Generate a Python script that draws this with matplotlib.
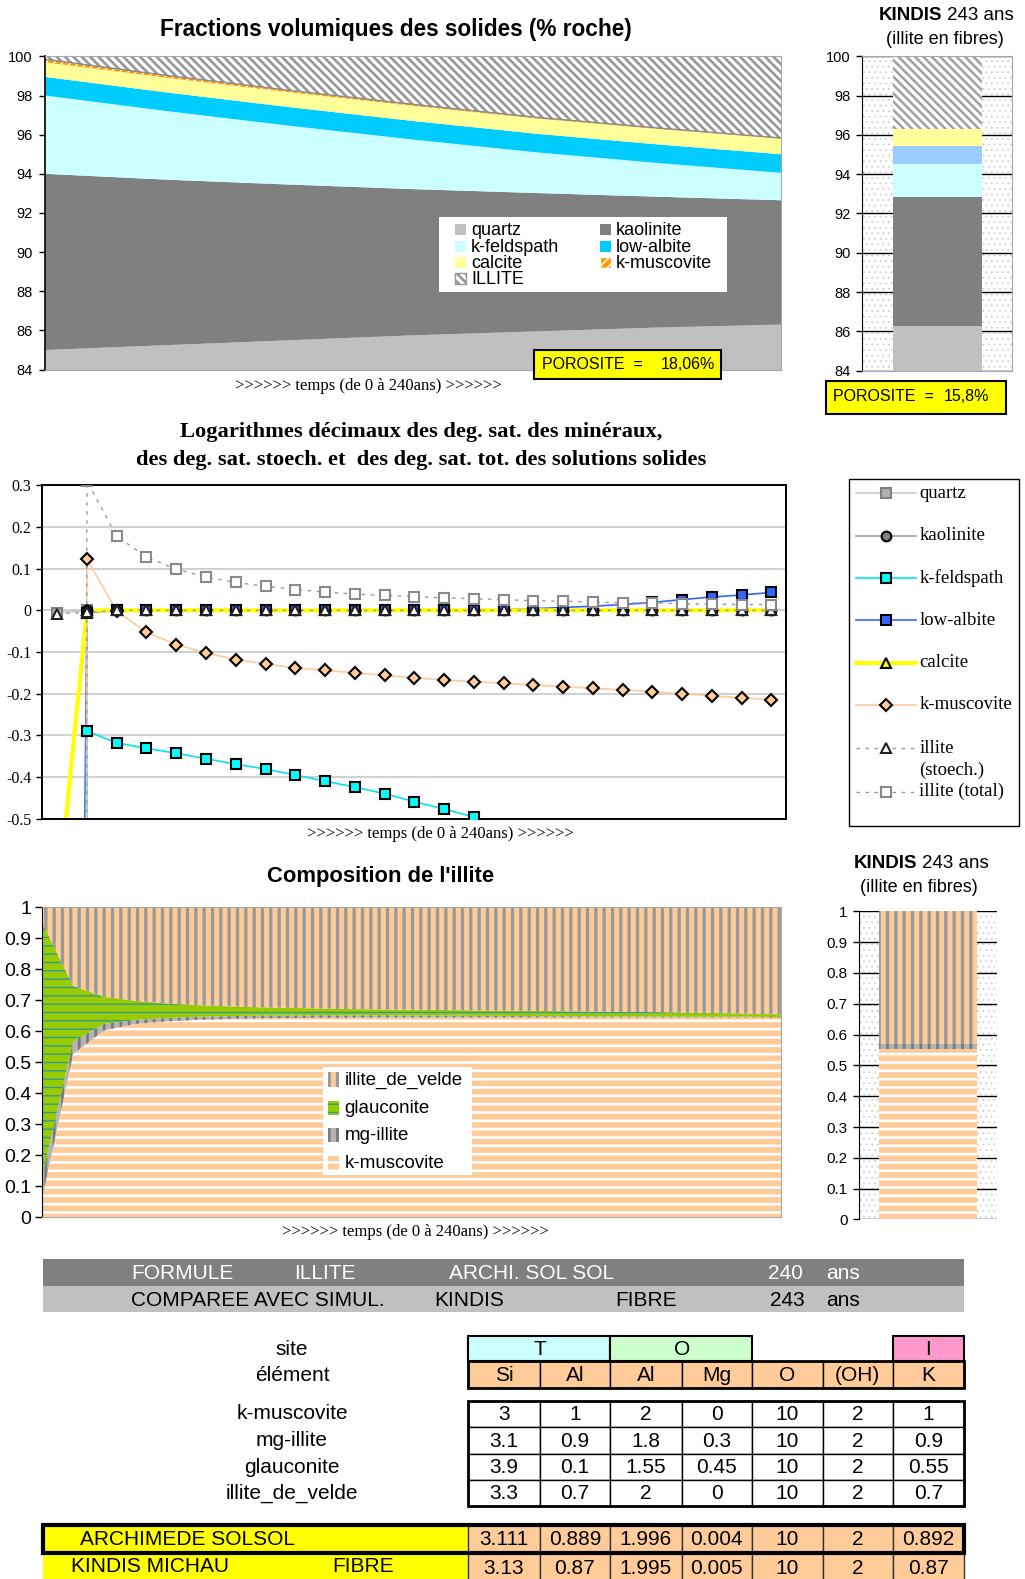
import numpy as np
import matplotlib
matplotlib.use("Agg")
import matplotlib.pyplot as plt
from matplotlib.patches import Rectangle

SANS = "Liberation Sans"
SERIF = "Liberation Serif"
plt.rcParams["font.family"] = SANS

# ---------------- data : volume fractions of the solids (% roche)
years = [0, 40, 80, 120, 160, 200, 240]
vol_quartz = [85.0, 85.25, 85.5, 85.75, 85.95, 86.15, 86.3]
vol_kaolinite = [9.0, 8.45, 7.95, 7.47, 7.07, 6.68, 6.35]
vol_kfeldspath = [4.0, 3.5, 3.0, 2.53, 2.08, 1.72, 1.4]
vol_lowalbite = [0.95, 0.95, 0.95, 0.95, 0.95, 0.95, 0.95]
vol_calcite = [0.75, 0.75, 0.76, 0.77, 0.78, 0.79, 0.80]
vol_kmuscovite = [0.15, 0.12, 0.10, 0.08, 0.06, 0.05, 0.03]
vol_illite = [0.15, 0.98, 1.74, 2.45, 3.11, 3.66, 4.17]
porosite_archi = "18,06%"

# KINDIS 243 ans (quartz, kaolinite, k-feldspath, low-albite, calcite, illite)
kindis_vol = [86.25, 6.6, 1.65, 0.95, 0.85, 3.7]
porosite_kindis = "15,8%"

# ---------------- data : log10 of saturation degrees (25 time steps)
steps = list(range(25))
nan = np.nan
ls_quartz = [-0.006, 0, 0, 0, 0, 0, 0, 0, 0, 0, 0, 0, 0, 0, 0, 0, 0, 0, 0, 0, 0, 0, 0, 0, 0]
ls_kaolinite = [-40, 0, 0, 0, 0, 0, 0, 0, 0, 0, 0, 0, 0, 0, 0, 0, 0, 0, 0, 0, 0, 0, 0, 0, 0]
ls_kfeldspath = [-40, -0.290, -0.318, -0.331, -0.343, -0.356, -0.369, -0.381, -0.395, -0.410,
                 -0.424, -0.440, -0.459, -0.477, -0.496, -0.52, nan, nan, nan, nan, nan, nan,
                 nan, nan, nan]
ls_lowalbite = [-7, -0.006, 0, 0, 0, 0, 0, 0, 0, 0, 0, 0, 0, 0, 0, 0.002, 0.004, 0.007, 0.010,
                0.014, 0.019, 0.026, 0.032, 0.037, 0.043]
ls_calcite = [-0.71, 0, 0, 0, 0, 0, 0, 0, 0, 0, 0, 0, 0, 0, 0, 0, 0, 0, 0, 0, 0, 0, 0, 0, 0]
ls_kmuscovite = [-40, 0.123, -0.001, -0.053, -0.082, -0.102, -0.118, -0.128, -0.138, -0.144,
                 -0.150, -0.156, -0.162, -0.167, -0.171, -0.175, -0.179, -0.183, -0.187, -0.191,
                 -0.195, -0.200, -0.205, -0.210, -0.214]
ls_illite_stoech = [-0.008, -0.005, 0, 0, 0, 0, 0, 0, 0, 0, 0, 0, 0, 0, 0, 0, 0, 0, 0, 0, 0, 0,
                    0, 0, 0]
ls_illite_total = [-40, 0.31, 0.178, 0.128, 0.099, 0.080, 0.067, 0.058, 0.050, 0.044, 0.039,
                   0.036, 0.033, 0.030, 0.028, 0.026, 0.023, 0.022, 0.020, 0.018, 0.018, 0.016,
                   0.015, 0.014, 0.014]

# ---------------- data : illite composition (25 time steps)
comp_kmuscovite = [0.065, 0.527, 0.603, 0.624, 0.632, 0.637, 0.640, 0.642, 0.643, 0.644, 0.644,
                   0.645, 0.645, 0.645, 0.645, 0.645, 0.645, 0.645, 0.645, 0.645, 0.645, 0.645,
                   0.645, 0.645, 0.644]
comp_mgillite = [0.07, 0.04, 0.021, 0.013, 0.011, 0.010, 0.009, 0.009, 0.008, 0.008, 0.007,
                 0.007, 0.006, 0.006, 0.005, 0.005, 0.004, 0.004, 0.003, 0.003, 0.003, 0.002,
                 0.002, 0.002, 0.002]
comp_glauconite = [0.815, 0.18, 0.088, 0.062, 0.047, 0.038, 0.032, 0.027, 0.025, 0.022, 0.021,
                   0.019, 0.019, 0.018, 0.018, 0.017, 0.017, 0.016, 0.016, 0.015, 0.014, 0.013,
                   0.012, 0.010, 0.009]
comp_velde = [0.05, 0.253, 0.288, 0.301, 0.31, 0.315, 0.319, 0.322, 0.324, 0.326, 0.328, 0.329,
              0.330, 0.331, 0.332, 0.333, 0.334, 0.335, 0.336, 0.337, 0.338, 0.340, 0.341, 0.343,
              0.345]
# KINDIS fibre: k-muscovite, mg-illite, glauconite, illite_de_velde
kindis_comp = [0.553, 0.016, 0.0, 0.431]

# ---------------- data : formula table
elements = ["Si", "Al", "Al", "Mg", "O", "(OH)", "K"]
end_members = ["k-muscovite", "mg-illite", "glauconite", "illite_de_velde"]
formula_kmuscovite = [3, 1, 2, 0, 10, 2, 1]
formula_mgillite = [3.1, 0.9, 1.8, 0.3, 10, 2, 0.9]
formula_glauconite = [3.9, 0.1, 1.55, 0.45, 10, 2, 0.55]
formula_velde = [3.3, 0.7, 2, 0, 10, 2, 0.7]
formula_archimede = [3.111, 0.889, 1.996, 0.004, 10, 2, 0.892]
formula_kindis = [3.13, 0.87, 1.995, 0.005, 10, 2, 0.87]

# ---------------- figure scaffolding (layout in reference pixels)
W, H = 1018.0, 1568.0
fig = plt.figure(figsize=(10.25, 15.79), dpi=100)


def add_box(x0, y0, x1, y1):
    return fig.add_axes([x0 / W, 1 - y1 / H, (x1 - x0) / W, (y1 - y0) / H])


ov = fig.add_axes([0, 0, 1, 1], zorder=10)
ov.set_xlim(0, W)
ov.set_ylim(H, 0)
ov.axis("off")


def rect(x0, y0, x1, y1, fc, ec="black", lw=1.0, hatch=None, hlw=1.0, z=1):
    with plt.rc_context({"hatch.linewidth": hlw}):
        p = Rectangle((x0, y0), x1 - x0, y1 - y0, facecolor=fc, edgecolor=ec,
                      linewidth=lw, hatch=hatch, zorder=z)
    if hatch and hasattr(p, "set_hatch_linewidth"):
        p.set_hatch_linewidth(hlw)
    ov.add_patch(p)
    return p


def txt(x, y, s, size=15, ha="left", family=SANS, **kw):
    ov.text(x, y, s, ha=ha, va="center", fontsize=size, family=family, **kw)


def layer(ax, x, lo, hi, fc, ec="none", hatch=None, hlw=1.0, lw=0):
    with plt.rc_context({"hatch.linewidth": hlw}):
        c = ax.fill_between(x, lo, hi, facecolor=fc, edgecolor=ec, hatch=hatch, linewidth=lw)
    if hatch and hasattr(c, "set_hatch_linewidth"):
        c.set_hatch_linewidth(hlw)
    return c


def bar(ax, x, h, b, width, fc, ec="none", hatch=None, hlw=1.0):
    with plt.rc_context({"hatch.linewidth": hlw}):
        bars = ax.bar(x, h, width=width, bottom=b, facecolor=fc, edgecolor=ec, hatch=hatch,
                      linewidth=0, zorder=2)
    for p in bars:
        if hatch and hasattr(p, "set_hatch_linewidth"):
            p.set_hatch_linewidth(hlw)


def dotted_bg(ax):
    with plt.rc_context({"hatch.linewidth": 0.6}):
        r = Rectangle((0, 0), 1, 1, transform=ax.transAxes, facecolor="white",
                      edgecolor="#CFCFCF", hatch="...", linewidth=0, zorder=0)
    if hasattr(r, "set_hatch_linewidth"):
        r.set_hatch_linewidth(0.6)
    ax.add_patch(r)


# styles for the solid phases (top charts)
st_quartz = dict(fc="#C0C0C0")
st_kaolinite = dict(fc="#808080")
st_kfeld = dict(fc="#CCFFFF")
st_albite = dict(fc="#00CCFF")
st_calcite = dict(fc="#FFFF99")
st_kmusc = dict(fc="#FF9900", ec="white", hatch="////", hlw=1.0)
st_illite = dict(fc="white", ec="#969696", hatch="\\\\\\\\", hlw=1.9)

# ================= top chart
ax1 = add_box(45, 56, 776, 367)
t = np.array(years, dtype=float)
lo = np.zeros(len(t))
for vals, st in [(vol_quartz, st_quartz), (vol_kaolinite, st_kaolinite),
                 (vol_kfeldspath, st_kfeld), (vol_lowalbite, st_albite),
                 (vol_calcite, st_calcite), (vol_kmuscovite, st_kmusc),
                 (vol_illite, st_illite)]:
    hi = lo + np.array(vals)
    layer(ax1, t, lo, hi, **st)
    lo = hi
ax1.plot(t, lo - np.array(vol_illite), color="#8A8A8A", lw=1.0)
ax1.set_xlim(0, 240)
ax1.set_ylim(84, 100)
ax1.set_yticks(range(84, 101, 2))
ax1.set_xticks([])
ax1.tick_params(axis="y", direction="out", length=4, width=1, pad=5, labelsize=10.5)
for s in ["top", "right", "bottom"]:
    ax1.spines[s].set_color("#A8A8A8")
ax1.spines["left"].set_linewidth(1.2)

txt(393, 29, "Fractions volumiques des solides (% roche)", size=16.3, ha="center",
    fontweight="bold")
txt(366, 383, ">>>>>> temps (de 0 à 240ans) >>>>>>", size=12, ha="center", family=SERIF)

# legend of the top chart
rect(436, 215, 722, 290, "white", ec="none", lw=0, z=3)
leg_top = [("quartz", st_quartz, 452, 228), ("k-feldspath", st_kfeld, 452, 245),
           ("calcite", st_calcite, 452, 261), ("ILLITE", st_illite, 452, 277),
           ("kaolinite", st_kaolinite, 596, 228), ("low-albite", st_albite, 596, 245),
           ("k-muscovite", st_kmusc, 596, 261)]
for name, st, lx, ly in leg_top:
    ec = st.get("ec", "none")
    rect(lx, ly - 5.5, lx + 11, ly + 5.5, st["fc"], ec=ec,
         lw=1.0 if "hatch" in st else 0, hatch=st.get("hatch"), hlw=st.get("hlw", 1.0), z=4)
    txt(lx + 16, ly + 0.5, name, size=13)

rect(530, 348, 716, 376, "#FFFF00", lw=1.5, z=3)
txt(538, 362, "POROSITE  =", size=11.5)
txt(710, 362, porosite_archi, size=11.5, ha="right")

# ================= top right bar (KINDIS)
ax2 = add_box(856, 56, 1005, 368)
dotted_bg(ax2)
b = 0.0
for val, st in zip(kindis_vol, [st_quartz, st_kaolinite, st_kfeld, dict(fc="#99CCFF"),
                                st_calcite, dict(fc="white", ec="#A0A0A0",
                                                 hatch="\\\\\\\\", hlw=1.8)]):
    bar(ax2, 0.503, val, b, 0.594, st["fc"], ec=st.get("ec", "none"),
        hatch=st.get("hatch"), hlw=st.get("hlw", 1.0))
    b += val
ax2.set_xlim(0, 1)
ax2.set_ylim(84, 100)
ax2.set_yticks(range(84, 101, 2))
ax2.set_xticks([])
ax2.set_axisbelow(True)
ax2.yaxis.grid(True, color="black", lw=1.0)
ax2.tick_params(axis="y", direction="out", length=4, width=1, pad=4, labelsize=10.5)
for s in ["top", "right", "bottom"]:
    ax2.spines[s].set_color("#A8A8A8")

txt(936, 15, "KINDIS", size=13.5, ha="right", fontweight="bold")
txt(941, 15, "243 ans", size=13.5)
txt(938, 39, "(illite en fibres)", size=13, ha="center")
rect(820, 378, 999, 411, "#FFFF00", lw=1.5, z=3)
txt(827, 394, "POROSITE  =", size=11.5)
txt(982, 394, porosite_kindis, size=11.5, ha="right")

# ================= middle chart: log saturation degrees
dash = (0, (2.5, 4))
series = [
    ("quartz", ls_quartz, dict(color="#C8C8C8", lw=1.2, ls="-"),
     dict(marker="s", mfc="#B0B0B0", mec="#808080")),
    ("kaolinite", ls_kaolinite, dict(color="#A0A0A0", lw=1.2, ls="-"),
     dict(marker="o", mfc="#808080", mec="black")),
    ("k-feldspath", ls_kfeldspath, dict(color="#00E5EE", lw=1.2, ls="-"),
     dict(marker="s", mfc="#00FFFF", mec="black")),
    ("low-albite", ls_lowalbite, dict(color="#3366FF", lw=1.2, ls="-"),
     dict(marker="s", mfc="#3366FF", mec="black")),
    ("calcite", ls_calcite, dict(color="#FFFF00", lw=3.0, ls="-"),
     dict(marker="^", mfc="#FFFF00", mec="black")),
    ("k-muscovite", ls_kmuscovite, dict(color="#FFCC99", lw=1.2, ls="-"),
     dict(marker="D", mfc="#FFCC99", mec="black", ms=6)),
    ("illite\n(stoech.)", ls_illite_stoech, dict(color="#9A9A9A", lw=1.0, ls=dash),
     dict(marker="^", mfc="white", mec="#222222")),
    ("illite (total)", ls_illite_total, dict(color="#9A9A9A", lw=1.0, ls=dash),
     dict(marker="s", mfc="white", mec="#8A8A8A")),
]
ax3 = add_box(42, 482, 781, 813)
for name, vals, lst, mst in series:
    ax3.plot(steps, vals, zorder=2, **lst)
for name, vals, lst, mst in series:
    m = dict(ms=7, mew=1.5)
    m.update(mst)
    ax3.plot(steps, vals, ls="none", zorder=3, **m)
ax3.set_xlim(-0.5, 24.5)
ax3.set_ylim(-0.5, 0.3)
yt = [-0.5, -0.4, -0.3, -0.2, -0.1, 0, 0.1, 0.2, 0.3]
ax3.set_yticks(yt, ["-0.5", "-0.4", "-0.3", "-0.2", "-0.1", "0", "0.1", "0.2", "0.3"])
ax3.set_xticks([])
ax3.set_axisbelow(True)
ax3.yaxis.grid(True, color="#C8C8C8", lw=1.2)
ax3.tick_params(axis="y", direction="out", length=4, width=1, pad=4, labelsize=11.5,
                labelfontfamily=SERIF)
for s in ax3.spines.values():
    s.set_linewidth(1.4)

txt(418, 429, "Logarithmes décimaux des deg. sat. des minéraux,", size=16.2, ha="center",
    family=SERIF, fontweight="bold")
txt(418, 457, "des deg. sat. stoech. et  des deg. sat. tot. des solutions solides", size=16.2,
    ha="center", family=SERIF, fontweight="bold")
txt(437, 828, ">>>>>> temps (de 0 à 240ans) >>>>>>", size=12, ha="center", family=SERIF)

# legend box of the middle chart
rect(843, 476, 1012, 820, "white", lw=1.0, z=1)
leg_y = [490, 532, 574, 616, 658, 700, 743, 786]
for (name, vals, lst, mst), ly in zip(series, leg_y):
    ov.plot([850, 910], [ly, ly], zorder=2, **lst)
    m = dict(ms=7, mew=1.5)
    m.update(mst)
    ov.plot([880], [ly], ls="none", zorder=3, **m)
    if "\n" in name:
        first, second = name.split("\n")
        txt(913, ly, first, size=13.5, family=SERIF)
        txt(913, ly + 22, second, size=13.5, family=SERIF)
    else:
        txt(913, ly, name, size=13.5, family=SERIF)

# ================= bottom chart: illite composition
st_c_kmusc = dict(fc="#FFCC99", ec="white", hatch="--", hlw=1.9)
st_c_mg = dict(fc="#B4B4B4", ec="#7A7A7A", hatch="||", hlw=2.0)
st_c_glauc = dict(fc="#99CC00", ec="#339999", hatch="--", hlw=1.0)
st_c_velde = dict(fc="#FFCC99", ec="#999999", hatch="||", hlw=2.4)

ax4 = add_box(42, 901, 776, 1209)
lo = np.zeros(len(steps))
for vals, st in [(comp_kmuscovite, st_c_kmusc), (comp_mgillite, st_c_mg),
                 (comp_glauconite, st_c_glauc), (comp_velde, st_c_velde)]:
    hi = lo + np.array(vals)
    layer(ax4, steps, lo, hi, **st)
    lo = hi
ax4.set_xlim(0, 24)
ax4.set_ylim(0, 1)
yt = [0, 0.1, 0.2, 0.3, 0.4, 0.5, 0.6, 0.7, 0.8, 0.9, 1]
ax4.set_yticks(yt, ["0", "0.1", "0.2", "0.3", "0.4", "0.5", "0.6", "0.7", "0.8", "0.9", "1"])
ax4.set_xticks([])
ax4.tick_params(axis="y", direction="out", length=5, width=1, pad=3, labelsize=14)
for s in ["top", "right", "bottom"]:
    ax4.spines[s].set_color("#A8A8A8")

txt(378, 870, "Composition de l'illite", size=15.8, ha="center", fontweight="bold")
txt(413, 1223, ">>>>>> temps (de 0 à 240ans) >>>>>>", size=12, ha="center", family=SERIF)

rect(321, 1060, 469, 1167, "white", ec="none", lw=0, z=3)
for name, st, ly in [("illite_de_velde", st_c_velde, 1072), ("glauconite", st_c_glauc, 1100),
                     ("mg-illite", st_c_mg, 1127), ("k-muscovite", st_c_kmusc, 1155)]:
    rect(326, ly - 7, 337, ly + 7, st["fc"], ec=st["ec"], lw=0, hatch=st["hatch"],
         hlw=st["hlw"], z=4)
    txt(342, ly + 0.5, name, size=13.5)

# ================= bottom right bar (KINDIS)
ax5 = add_box(853, 905, 990, 1211)
dotted_bg(ax5)
b = 0.0
for val, st in zip(kindis_comp, [st_c_kmusc, st_c_mg, st_c_glauc, st_c_velde]):
    if val > 0:
        bar(ax5, 0.5025, val, b, 0.715, st["fc"], ec=st["ec"], hatch=st["hatch"],
            hlw=st["hlw"])
    b += val
ax5.set_xlim(0, 1)
ax5.set_ylim(0, 1)
ax5.set_yticks(yt, ["0", "0.1", "0.2", "0.3", "0.4", "0.5", "0.6", "0.7", "0.8", "0.9", "1"])
ax5.set_xticks([])
ax5.set_axisbelow(True)
ax5.yaxis.grid(True, color="black", lw=1.0)
ax5.tick_params(axis="y", direction="out", length=4, width=1, pad=4, labelsize=11)
for s in ["top", "right", "bottom"]:
    ax5.spines[s].set_visible(False)

txt(911, 857, "KINDIS", size=13.5, ha="right", fontweight="bold")
txt(916, 857, "243 ans", size=13.5)
txt(913, 881, "(illite en fibres)", size=13, ha="center")

# ================= formula table
rect(43, 1250, 957, 1277, "#808080", ec="none", lw=0)
rect(43, 1277, 957, 1303, "#C0C0C0", ec="none", lw=0)
for s, x in [("FORMULE", 130), ("ILLITE", 292), ("ARCHI. SOL SOL", 446), ("240", 763),
             ("ans", 820)]:
    txt(x, 1264.5, s, color="white")
for s, x in [("COMPAREE AVEC SIMUL.", 130), ("KINDIS", 431), ("FIBRE", 611), ("243", 765),
             ("ans", 820)]:
    txt(x, 1291.5, s)

cols = [465, 536, 606, 677, 747, 817, 887, 957]
mids = [(a + b2) / 2 for a, b2 in zip(cols[:-1], cols[1:])]

txt(290, 1340, "site", ha="center")
txt(290, 1366, "élément", ha="center")
rect(cols[0], 1327, cols[2], 1352, "#CCFFFF", lw=1.5)
rect(cols[2], 1327, cols[4], 1352, "#CCFFCC", lw=1.5)
rect(cols[6], 1327, cols[7], 1352, "#FF99CC", lw=1.5)
txt(cols[1], 1340, "T", ha="center")
txt(cols[3], 1340, "O", ha="center")
txt(mids[6], 1340, "I", ha="center")
for i, el in enumerate(elements):
    rect(cols[i], 1352, cols[i + 1], 1378, "#FFCC99", lw=1.0)
    txt(mids[i], 1366, el, ha="center")
rect(cols[0], 1352, cols[7], 1378, "none", lw=2.0, z=2)

row_y = [1391, 1417, 1444, 1470, 1496]
for r, (name, vals) in enumerate(zip(end_members, [formula_kmuscovite, formula_mgillite,
                                                    formula_glauconite, formula_velde])):
    y0, y1 = row_y[r], row_y[r + 1]
    txt(290, (y0 + y1) / 2, name, ha="center")
    for i, v in enumerate(vals):
        rect(cols[i], y0, cols[i + 1], y1, "white", lw=1.0)
        txt(mids[i], (y0 + y1) / 2 + 0.5, f"{v:g}", ha="center")
rect(cols[0], row_y[0], cols[7], row_y[-1], "none", lw=2.0, z=2)

for y0, y1, vals, outline in [(1514, 1542, formula_archimede, 3.0),
                              (1542, 1572, formula_kindis, 0)]:
    rect(43, y0, cols[0], y1, "#FFFF00", ec="none", lw=0)
    for i, v in enumerate(vals):
        rect(cols[i], y0, cols[i + 1], y1, "#FFCC99", ec="#333333", lw=1.0)
        txt(mids[i], (y0 + y1) / 2 + 0.5, f"{v:g}", ha="center")
    if outline:
        rect(43, y0, cols[7], y1, "none", lw=outline, z=3)
txt(79, 1529, "ARCHIMEDE SOLSOL")
txt(71, 1556, "KINDIS MICHAU")
txt(330, 1556, "FIBRE")

fig.savefig("out.png", dpi=100)
